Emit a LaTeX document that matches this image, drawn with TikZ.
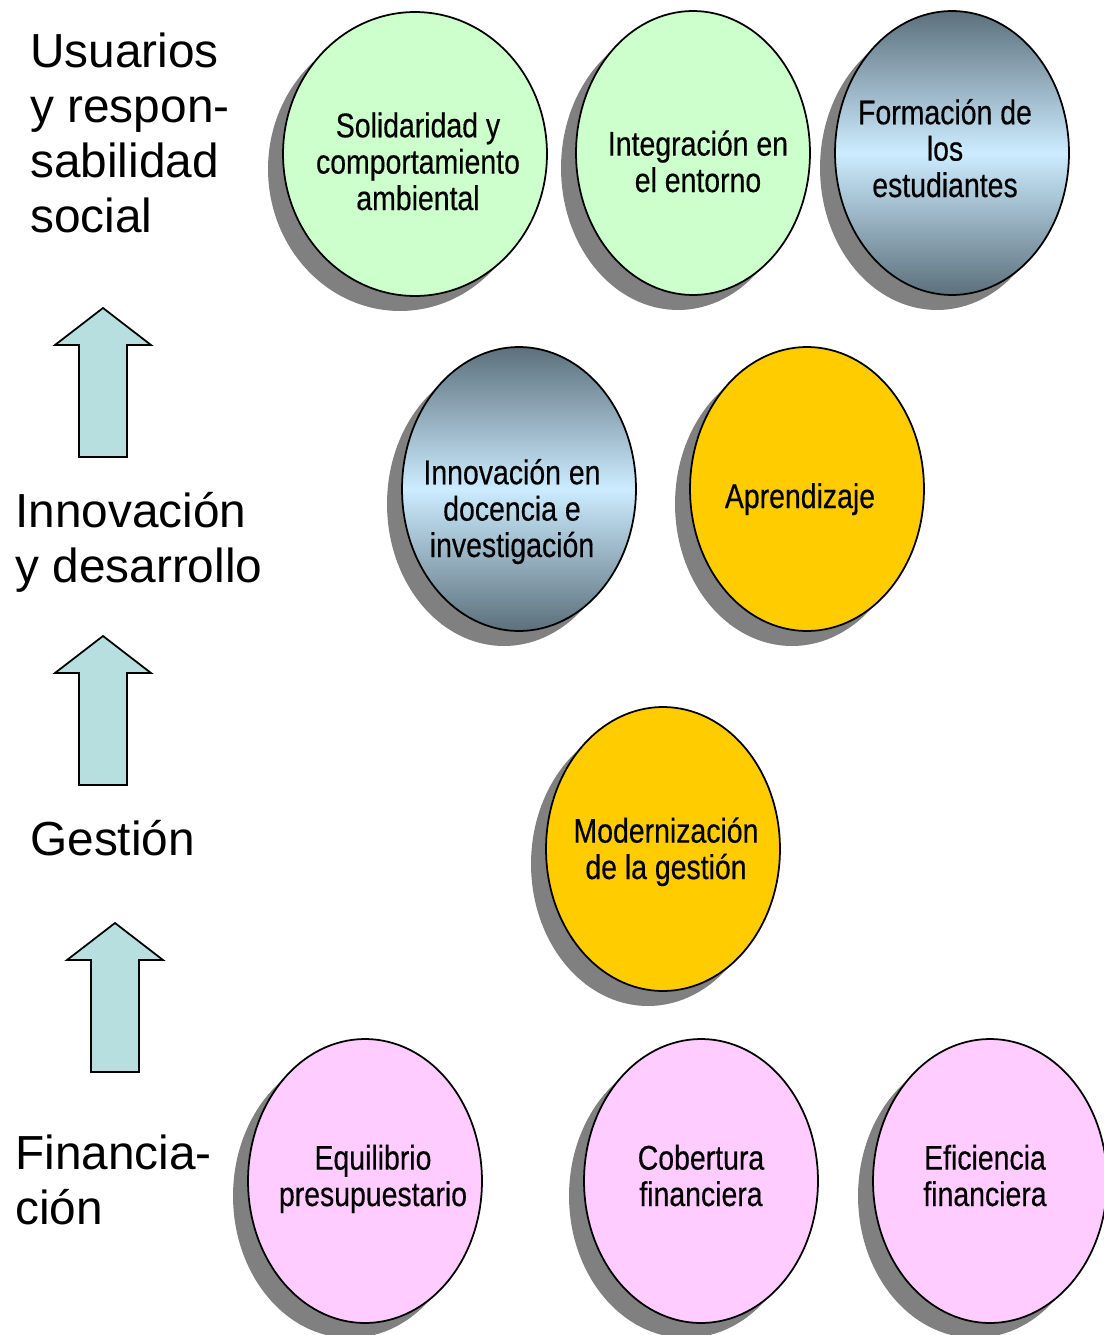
\documentclass[tikz,border=0pt]{standalone}
\usepackage{fontspec}
\usepackage{tikz}
\usetikzlibrary{shapes.geometric,shadows}
\setmainfont{Liberation Sans}
\newfontfamily\narrowfont{Liberation Sans}[FakeStretch=0.83, FakeBold=0.4]
\definecolor{lightgreen}{RGB}{204,255,204}
\definecolor{lightpink}{RGB}{255,204,255}
\definecolor{gold}{RGB}{255,204,0}
\definecolor{slate}{RGB}{92,112,124}
\definecolor{skyblue}{RGB}{204,236,255}
\definecolor{shadowgray}{RGB}{128,128,128}
\definecolor{arrowblue}{RGB}{183,223,224}

\begin{document}
\begin{tikzpicture}[x=0.02cm, y=-0.02cm,
    ball/.style={ellipse, draw, line width=1pt, inner sep=0pt,
        minimum width=4.68cm, minimum height=5.68cm,
        drop shadow={shadow xshift=-0.3cm, shadow yshift=-0.3cm, fill=shadowgray, opacity=1}},
    steel/.style={ball, top color=slate, bottom color=slate, middle color=skyblue},
    balltext/.style={anchor=base, align=center, inner sep=0pt,
        font=\narrowfont\fontsize{19.5}{20.7}\selectfont},
    level/.style={anchor=base west, align=left, inner sep=0pt,
        font=\fontsize{27.2}{31.2}\selectfont},
    uparrow/.style={draw, line width=1pt, fill=arrowblue, line join=miter}]
    \useasboundingbox (0,0) rectangle (1104,1335);

    % levels (base = last line)
    \node (usuarios) [level] at (30,232) {Usuarios\\y respon-\\sabilidad\\social};
    \node (innovacion) [level] at (15,582) {Innovación\\y desarrollo};
    \node (gestion) [level] at (30,855) {Gestión};
    \node (financiacion) [level] at (15,1224) {Financia-\\ción};

    \foreach \x/\y in {103/308, 103/636, 115/923}
        \draw[uparrow] (\x,\y) -- ++(48,37) -- ++(-24,0) -- ++(0,112)
            -- ++(-48,0) -- ++(0,-112) -- ++(-24,0) -- cycle;

    % ellipses
    \node (solid) [ball, fill=lightgreen, minimum width=5.28cm] at (415,154) {};
    \node (integ) [ball, fill=lightgreen] at (693,153) {};
    \node (formac) [steel] at (952,153) {};
    \node (innov) [steel] at (519,489) {};
    \node (aprend) [ball, fill=gold] at (807,489) {};
    \node (modern) [ball, fill=gold] at (663,849) {};
    \node (equil) [ball, fill=lightpink] at (365,1181) {};
    \node (cobert) [ball, fill=lightpink] at (701,1181) {};
    \node (efic) [ball, fill=lightpink] at (990,1181) {};

    \node (solid-t) [balltext] at (418,210) {Solidaridad y\\comportamiento\\ambiental};
    \node (integ-t) [balltext] at (698,192) {Integración en\\el entorno};
    \node (formac-t) [balltext] at (945,197) {Formación de\\los\\estudiantes};
    \node (innov-t) [balltext] at (512,557) {Innovación en\\docencia e\\investigación};
    \node (aprend-t) [balltext] at (800,508) {Aprendizaje};
    \node (modern-t) [balltext] at (666,879) {Modernización\\de la gestión};
    \node (equil-t) [balltext] at (373,1206) {Equilibrio\\presupuestario};
    \node (cobert-t) [balltext] at (701,1206) {Cobertura\\financiera};
    \node (efic-t) [balltext] at (985,1206) {Eficiencia\\financiera};
\end{tikzpicture}
\end{document}
